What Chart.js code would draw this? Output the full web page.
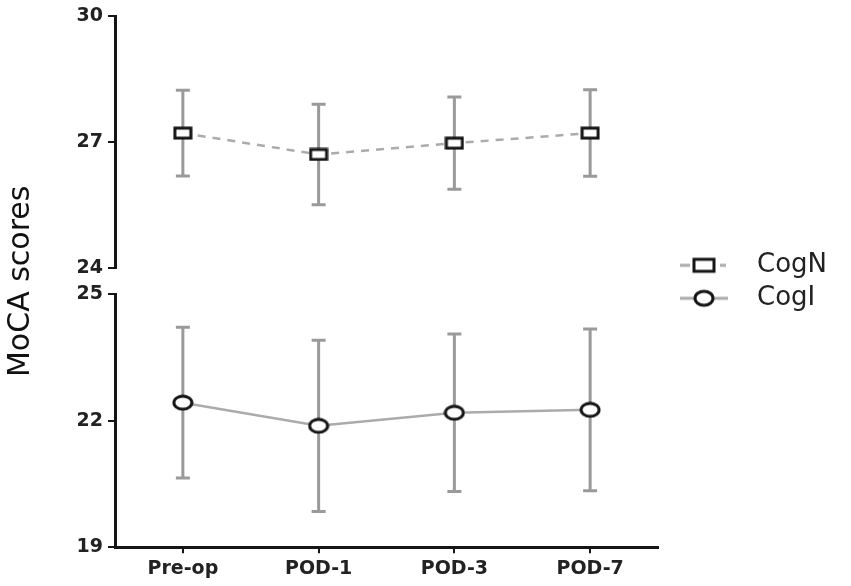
<!DOCTYPE html>
<html>
<head>
<meta charset="utf-8">
<script src="https://cdn.jsdelivr.net/npm/chart.js@4.4.1/dist/chart.umd.min.js"></script>
<style>
  html, body { margin: 0; padding: 0; background: #fff; }
  #wrap { width: 851px; height: 586px; }
</style>
</head>
<body>
<div id="wrap"><canvas id="grafico"></canvas></div>
<script>
// Dados (média ± DP)
const categorias = ["Pre-op", "POD-1", "POD-3", "POD-7"];
const cogNMedia = [27.22, 26.71, 26.98, 27.22];
const cogNDP = [1.02, 1.20, 1.10, 1.03];
const cogIMedia = [22.43, 21.88, 22.19, 22.26];
const cogIDP = [1.79, 2.03, 1.87, 1.92];
const desvios = [cogNDP, cogIDP];

const PRETO = "#151515";
const CINZA_LINHA = "#ababab";
const CINZA_BARRA = "#9a9a9a";
const LARGURA_LEGENDA = 183;

// Marcadores desenhados em pequenos canvas (retângulo e elipse)
function marcadorRet(w, h) {
  const c = document.createElement("canvas");
  c.width = w + 4; c.height = h + 4;
  const g = c.getContext("2d");
  g.fillStyle = "#fff"; g.strokeStyle = PRETO; g.lineWidth = 3;
  g.fillRect(2, 2, w, h); g.strokeRect(2, 2, w, h);
  return c;
}
function marcadorElipse(rx, ry) {
  const c = document.createElement("canvas");
  c.width = rx * 2 + 4; c.height = ry * 2 + 4;
  const g = c.getContext("2d");
  g.fillStyle = "#fff"; g.strokeStyle = PRETO; g.lineWidth = 3;
  g.beginPath(); g.ellipse(rx + 2, ry + 2, rx, ry, 0, 0, Math.PI * 2);
  g.fill(); g.stroke();
  return c;
}

// Ícones da legenda: linha + marcador (margem de 15px à esquerda)
function iconeLegenda(tracejado) {
  const c = document.createElement("canvas");
  c.width = 79; c.height = 20;
  const g = c.getContext("2d");
  const x0 = 15;
  g.strokeStyle = CINZA_LINHA; g.lineWidth = 3;
  g.beginPath();
  if (tracejado) {
    g.moveTo(x0, 10); g.lineTo(x0 + 10, 10);
    g.moveTo(x0 + 40, 10); g.lineTo(x0 + 46, 10);
  } else {
    g.moveTo(x0, 10); g.lineTo(x0 + 48, 10);
  }
  g.stroke();
  g.fillStyle = "#fff"; g.strokeStyle = PRETO; g.lineWidth = 3;
  if (tracejado) {
    g.fillRect(x0 + 14, 4, 20, 12); g.strokeRect(x0 + 14, 4, 20, 12);
  } else {
    g.beginPath(); g.ellipse(x0 + 24, 10, 9, 7, 0, 0, Math.PI * 2);
    g.fill(); g.stroke();
  }
  return c;
}
const iconesLegenda = [iconeLegenda(true), iconeLegenda(false)];

// A legenda à direita fica limitada pelo layout; força a largura dela
const larguraLegenda = {
  id: "larguraLegenda",
  beforeLayout(chart) {
    const lg = chart.legend;
    if (lg && !lg._ajustada) {
      const fitOriginal = lg.fit.bind(lg);
      lg.fit = function () {
        fitOriginal();
        this.width = LARGURA_LEGENDA;
      };
      lg._ajustada = true;
    }
  },
};

// Barras de erro, desenhadas antes das linhas e pontos
const barrasErro = {
  id: "barrasErro",
  beforeDatasetsDraw(chart) {
    const ctx = chart.ctx;
    chart.data.datasets.forEach((ds, i) => {
      const meta = chart.getDatasetMeta(i);
      const escala = chart.scales[ds.yAxisID];
      ctx.save();
      ctx.strokeStyle = CINZA_BARRA;
      ctx.lineWidth = 3;
      meta.data.forEach((pt, j) => {
        const topo = escala.getPixelForValue(ds.data[j] + desvios[i][j]);
        const base = escala.getPixelForValue(ds.data[j] - desvios[i][j]);
        ctx.beginPath();
        ctx.moveTo(pt.x, topo); ctx.lineTo(pt.x, base);
        ctx.moveTo(pt.x - 7, topo); ctx.lineTo(pt.x + 7, topo);
        ctx.moveTo(pt.x - 7, base); ctx.lineTo(pt.x + 7, base);
        ctx.stroke();
      });
      ctx.restore();
    });
  },
};

const fonteTicks = { family: "DejaVu Sans", weight: "bold", size: 19 };
const larguraEixo = (s) => { s.width = 115; };

function eixoY(min, max, peso, ordem) {
  return {
    type: "linear",
    position: "left",
    stack: "y",
    stackWeight: peso,
    weight: ordem,
    min, max,
    afterFit: larguraEixo,
    ticks: { stepSize: 3, font: fonteTicks, color: "#222", padding: 5 },
    grid: { drawOnChartArea: false, drawTicks: true, tickLength: 7, color: PRETO, lineWidth: 2 },
    border: { color: PRETO, width: 3 },
  };
}

new Chart(document.getElementById("grafico"), {
  type: "line",
  data: {
    labels: categorias,
    datasets: [
      {
        label: "CogN",
        data: cogNMedia,
        yAxisID: "yTopo",
        borderColor: CINZA_LINHA,
        borderWidth: 2.5,
        borderDash: [8, 7],
        pointStyle: marcadorRet(16, 10),
        fill: false,
        tension: 0,
      },
      {
        label: "CogI",
        data: cogIMedia,
        yAxisID: "yBase",
        borderColor: CINZA_LINHA,
        borderWidth: 2.5,
        pointStyle: marcadorElipse(9, 6.5),
        fill: false,
        tension: 0,
      },
    ],
  },
  options: {
    responsive: true,
    maintainAspectRatio: false,
    animation: false,
    layout: { padding: { top: 10, right: 10, bottom: 2, left: 0 } },
    scales: {
      x: {
        type: "category",
        offset: true,
        grid: { drawOnChartArea: false, drawTicks: true, tickLength: 6, color: PRETO, lineWidth: 2 },
        border: { color: PRETO, width: 3 },
        ticks: { font: fonteTicks, color: "#222", padding: 4 },
      },
      yTopo: eixoY(24, 30, 251, 3),
      yVao: {
        type: "linear",
        position: "left",
        stack: "y",
        stackWeight: 26,
        weight: 2,
        min: 0, max: 1,
        afterFit: larguraEixo,
        ticks: { display: false },
        grid: { display: false },
        border: { display: false },
        title: {
          display: true,
          text: "MoCA scores",
          font: { family: "DejaVu Sans", size: 30 },
          color: "#111",
          padding: { top: 3, bottom: 3 },
        },
      },
      yBase: eixoY(19, 25, 252, 1),
    },
    plugins: {
      tooltip: { enabled: false },
      legend: {
        position: "right",
        align: "center",
        fullSize: false,
        labels: {
          usePointStyle: true,
          pointStyleWidth: 79,
          boxHeight: 26,
          padding: 7,
          color: "#222",
          font: { family: "DejaVu Sans", size: 26 },
          generateLabels: (chart) =>
            Chart.defaults.plugins.legend.labels.generateLabels(chart).map((item, i) => {
              item.pointStyle = iconesLegenda[i];
              return item;
            }),
        },
      },
    },
  },
  plugins: [larguraLegenda, barrasErro],
});
</script>
</body>
</html>
